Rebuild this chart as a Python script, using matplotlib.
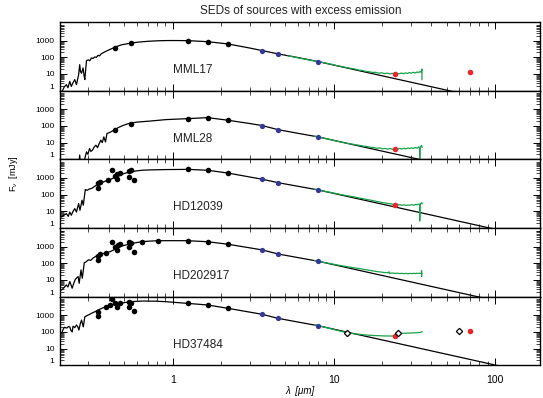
import numpy as np
import matplotlib
matplotlib.use("Agg")
import matplotlib.pyplot as plt
from matplotlib.ticker import LogLocator, NullFormatter

plt.rcParams['font.family'] = ['Liberation Sans', 'DejaVu Sans']
plt.rcParams['mathtext.fontset'] = 'custom'
plt.rcParams['mathtext.rm'] = 'Liberation Sans'
plt.rcParams['mathtext.it'] = 'Liberation Sans:italic'

# IRAC bands shared by all sources (um)
irac_wl = [3.6, 4.5, 8.0]

# ---- MML17 ----
mml17_model = [(0.205, 0.8), (0.212, 1.6), (0.219, 2.3), (0.224, 1.5), (0.230, 3.6), (0.235, 1.8),
               (0.241, 3.0), (0.247, 4.6), (0.253, 2.3), (0.258, 5.5), (0.261, 9.0), (0.265, 36),
               (0.268, 14), (0.272, 11), (0.278, 23), (0.282, 8), (0.285, 4.6), (0.292, 63),
               (0.300, 70), (0.306, 62), (0.313, 91), (0.320, 84), (0.328, 105), (0.336, 98),
               (0.344, 130), (0.352, 122), (0.360, 160), (0.379, 210), (0.400, 270), (0.427, 360),
               (0.455, 460), (0.482, 560), (0.52, 640), (0.556, 720), (0.62, 820), (0.705, 910),
               (0.80, 970), (0.90, 1000), (1.0, 1010), (1.25, 990), (1.65, 860), (2.2, 630),
               (3.0, 360), (3.6, 250), (4.5, 160), (6.0, 96), (8.0, 55), (200, 0.055)]
mml17_phot = [(0.44, 380), (0.55, 680), (1.25, 990), (1.65, 860), (2.2, 630)]
mml17_irac = [250, 160, 55]
mml17_irs = [(5.2, 122), (5.6, 106), (6.0, 92), (6.5, 80), (7.0, 69), (7.5, 61), (8.0, 55), (8.6, 48),
             (9.2, 42), (9.8, 37), (10.5, 31), (11.2, 28), (12.0, 24), (12.8, 21.5), (13.6, 19.5),
             (14.3, 17), (15.0, 16.2), (15.8, 14.3), (16.6, 13.6), (17.4, 12.3), (18.2, 12.6),
             (19.0, 11.1), (19.8, 11.8), (20.6, 10.5), (21.4, 11.3), (22.2, 10.1), (23.0, 10.9),
             (23.8, 9.7), (24.6, 10.7), (25.4, 10.2), (26.2, 11.4), (27.0, 10.3), (27.8, 11.6),
             (28.6, 10.7), (29.4, 12.2), (30.2, 11.1), (31.0, 12.6), (31.8, 11.5), (32.6, 13.0),
             (33.4, 12.2), (34.2, 14.0), (34.8, 12.5), (35.2, 20), (35.2, 4.6)]
mml17_mips = [(24, 10.5), (70, 13)]

# ---- MML28 ----
mml28_model = [(0.258, 0.5), (0.262, 0.6), (0.265, 1.8), (0.268, 0.5), (0.280, 0.6), (0.285, 1.1),
               (0.292, 2.8), (0.298, 2.0), (0.305, 4.4), (0.311, 3.0), (0.318, 3.5), (0.326, 5.5),
               (0.334, 7), (0.342, 5.0), (0.350, 8.7), (0.358, 14), (0.366, 10), (0.374, 22),
               (0.383, 11), (0.391, 35), (0.40, 38), (0.415, 45), (0.437, 60), (0.46, 80),
               (0.49, 105), (0.53, 138), (0.60, 170), (0.72, 195), (0.91, 240), (1.25, 275),
               (1.65, 315), (2.2, 220), (3.0, 140), (3.6, 105), (4.5, 60), (6.0, 36), (8.0, 22),
               (200, 0.022)]
mml28_phot = [(0.44, 60), (0.55, 138), (1.25, 275), (1.65, 315), (2.2, 220)]
mml28_irac = [105, 60, 22]
mml28_irs = [(7.6, 24), (8.0, 22), (8.6, 19), (9.2, 16.5), (9.8, 14.2), (10.5, 12), (11.2, 10.6),
             (12.0, 9.2), (12.8, 8.3), (13.6, 7.5), (14.4, 6.9), (15.2, 6.2), (16.0, 5.9),
             (16.8, 5.3), (17.6, 5.1), (18.4, 4.6), (19.2, 4.8), (20.0, 4.3), (20.8, 4.5),
             (21.6, 4.1), (22.4, 4.4), (23.2, 3.9), (24.0, 4.2), (24.8, 4.0), (25.6, 4.5),
             (26.4, 4.1), (27.2, 4.6), (28.0, 4.2), (28.8, 4.8), (29.6, 4.4), (30.4, 4.9),
             (31.2, 4.5), (32.0, 5.1), (32.8, 4.7), (33.6, 5.4), (34.0, 5.0), (34.1, 0.8),
             (34.3, 5.6), (35.0, 6.8), (35.3, 5.2)]
mml28_mips = [(24, 4.0)]

# ---- HD12039 ----
hd12039_model = [(0.205, 4.6), (0.212, 6.0), (0.219, 7.2), (0.225, 5.0), (0.230, 9), (0.235, 5.8),
                 (0.241, 10), (0.247, 14.5), (0.253, 9), (0.261, 29), (0.266, 11.5), (0.274, 46),
                 (0.279, 23), (0.287, 200), (0.295, 180), (0.303, 215), (0.313, 230), (0.323, 280),
                 (0.335, 360), (0.353, 490), (0.37, 560), (0.39, 700), (0.41, 800), (0.44, 1100),
                 (0.47, 1450), (0.50, 1850), (0.54, 2240), (0.59, 2600), (0.65, 2900), (0.75, 3050),
                 (0.91, 3160), (1.25, 3250), (1.65, 2870), (2.2, 1960), (3.0, 1140), (3.6, 830),
                 (4.5, 520), (6.0, 314), (8.0, 190), (200, 0.19)]
hd12039_phot = [(0.344, 490), (0.344, 263), (0.353, 560), (0.397, 720), (0.423, 3160), (0.437, 1260),
                (0.449, 1660), (0.452, 910), (0.470, 1950), (0.537, 2510), (0.548, 2880),
                (0.537, 1120), (0.577, 790), (1.25, 3250), (1.65, 2870), (2.2, 1960)]
hd12039_irac = [830, 520, 190]
hd12039_irs = [(7.6, 210), (8.0, 190), (8.6, 165), (9.2, 145), (9.8, 128), (10.5, 112), (11.2, 98),
               (12.0, 87), (12.8, 78), (13.6, 70), (14.4, 62), (15.2, 57), (16.0, 51), (16.8, 47),
               (17.6, 43), (18.4, 39), (19.2, 36.5), (20.0, 33), (20.8, 32), (21.6, 29),
               (22.4, 28.5), (23.2, 26), (24.0, 26.5), (24.8, 24), (25.6, 25), (26.4, 23),
               (27.2, 24.5), (28.0, 22.5), (28.8, 24), (29.6, 23), (30.4, 25), (31.2, 23.5),
               (32.0, 25.5), (32.8, 24.5), (33.6, 27), (34.0, 26), (34.1, 2.6), (34.3, 27),
               (35.0, 33), (35.3, 28)]
hd12039_mips = [(24, 25)]

# ---- HD202917 ----
hd202917_model = [(0.205, 2.5), (0.212, 3.5), (0.219, 5), (0.224, 3.8), (0.230, 8), (0.238, 3.2),
                  (0.243, 6), (0.249, 11), (0.259, 16), (0.263, 6.3), (0.270, 40), (0.275, 12.6),
                  (0.283, 110), (0.290, 120), (0.300, 160), (0.31, 150), (0.32, 200), (0.344, 320),
                  (0.37, 380), (0.41, 500), (0.44, 700), (0.47, 1000), (0.52, 1300), (0.57, 1600),
                  (0.65, 2000), (0.80, 2240), (1.0, 2260), (1.25, 2240), (1.65, 1950), (2.2, 1380),
                  (3.0, 843), (3.6, 630), (4.5, 360), (6.0, 218), (8.0, 132), (200, 0.13)]
hd202917_phot = [(0.344, 275), (0.344, 160), (0.353, 350), (0.385, 400), (0.423, 1820),
                 (0.437, 1000), (0.449, 630), (0.459, 1260), (0.470, 1450), (0.537, 2000),
                 (0.548, 1580), (0.537, 1000), (0.577, 500), (0.647, 2000), (0.807, 2240),
                 (1.25, 2240), (1.65, 1950), (2.2, 1380)]
hd202917_irac = [630, 360, 132]
hd202917_irs = [(7.6, 145), (8.0, 132), (8.6, 114), (9.2, 101), (9.8, 90), (10.5, 79), (11.2, 71),
                (12.0, 63), (12.8, 57), (13.6, 52), (14.4, 48), (15.2, 44), (16.0, 40), (16.8, 37),
                (17.6, 34.5), (18.4, 32), (19.2, 30.5), (20.0, 29), (20.8, 27.5), (21.6, 27),
                (22.0, 31), (22.1, 24), (22.4, 25.5), (23.2, 26), (24.0, 24.5), (24.8, 25.5),
                (25.6, 24), (26.4, 25), (27.2, 23.8), (28.0, 24.8), (28.8, 23.5), (29.6, 24.6),
                (30.4, 24), (31.2, 25), (32.0, 24.2), (32.8, 25.2), (33.6, 24.6), (34.4, 25),
                (35.0, 25), (35.0, 36), (35.0, 16), (35.05, 25)]

# ---- HD37484 ----
hd37484_model = [(0.205, 83), (0.209, 140), (0.213, 190), (0.220, 170), (0.226, 210), (0.230, 200),
                 (0.234, 120), (0.238, 100), (0.241, 220), (0.247, 180), (0.253, 260), (0.258, 200),
                 (0.262, 130), (0.267, 300), (0.272, 510), (0.279, 200), (0.285, 810), (0.298, 1000),
                 (0.313, 1290), (0.328, 1600), (0.344, 2040), (0.37, 2800), (0.397, 3550),
                 (0.43, 4300), (0.47, 5100), (0.54, 6450), (0.65, 7080), (0.80, 6900), (0.91, 6450),
                 (1.25, 5100), (1.65, 4100), (2.2, 2600), (3.0, 1540), (3.6, 1130), (4.5, 650),
                 (6.0, 390), (8.0, 235), (200, 0.235)]
hd37484_phot = [(0.344, 1600), (0.344, 900), (0.385, 2950), (0.41, 4070), (0.423, 9500),
                (0.437, 5100), (0.449, 2950), (0.470, 5100), (0.537, 6450), (0.537, 3200),
                (0.548, 5620), (0.577, 1860), (1.25, 5100), (1.65, 4100), (2.2, 2600)]
hd37484_irac = [1130, 650, 235]
hd37484_irs = [(7.6, 260), (8.0, 235), (8.6, 200), (9.2, 170), (9.8, 146), (10.5, 124), (11.2, 106),
               (12.0, 91), (12.8, 82), (13.6, 76), (14.4, 72), (15.2, 68), (16.0, 65), (16.8, 63),
               (17.6, 61), (18.4, 60), (19.2, 59), (20.0, 58), (20.8, 57.5), (21.6, 57),
               (22.4, 56.5), (23.2, 57), (24.0, 60), (24.8, 72), (25.6, 80), (26.4, 82),
               (27.2, 84), (28.0, 83), (28.8, 86), (29.6, 85), (30.4, 88), (31.2, 87), (32.0, 90),
               (32.8, 89), (33.6, 92), (34.4, 95), (35.0, 100), (35.3, 102)]
hd37484_mips = [(24, 59), (70, 118)]
hd37484_open = [(12, 89), (25, 89), (60, 108)]

panels = [
    ("MML17", mml17_model, mml17_phot, mml17_irac, mml17_irs, mml17_mips, None),
    ("MML28", mml28_model, mml28_phot, mml28_irac, mml28_irs, mml28_mips, None),
    ("HD12039", hd12039_model, hd12039_phot, hd12039_irac, hd12039_irs, hd12039_mips, None),
    ("HD202917", hd202917_model, hd202917_phot, hd202917_irac, hd202917_irs, None, None),
    ("HD37484", hd37484_model, hd37484_phot, hd37484_irac, hd37484_irs, hd37484_mips, hd37484_open),
]

green = "#17a34a"
blue = "#33379b"
red = "#e8262c"

fig = plt.figure(figsize=(5.43, 3.98), dpi=100)
axes = fig.subplots(5, 1, sharex=True, gridspec_kw=dict(hspace=0))
fig.subplots_adjust(left=60 / 543, right=540 / 543, top=1 - 22 / 398, bottom=1 - 365.3 / 398)

for ax, (name, model, phot, irac, irs, mips, opn) in zip(axes, panels):
    m = np.array(model)
    ax.plot(m[:, 0], m[:, 1], color="k", lw=0.9, zorder=2)
    s = np.array(irs)
    ax.plot(s[:, 0], s[:, 1], color=green, lw=0.9, zorder=3)
    p = np.array(phot)
    ax.plot(p[:, 0], p[:, 1], "o", color="k", ms=4.0, mec="none", zorder=4)
    ax.plot(irac_wl, irac, "o", color=blue, ms=3.8, mec="none", zorder=4)
    if mips is not None:
        r = np.array(mips)
        ax.plot(r[:, 0], r[:, 1], "o", color=red, ms=4.0, mec="none", zorder=5)
    if opn is not None:
        o = np.array(opn)
        ax.plot(o[:, 0], o[:, 1], "D", mfc="white", mec="k", mew=0.9, ms=3.2, zorder=6)

    ax.set_xscale("log")
    ax.set_yscale("log")
    ax.set_xlim(0.2, 190)
    ax.set_ylim(1, 13000)
    ax.set_xticks([1, 10, 100], labels=["1", "10", "100"])
    ax.set_yticks([1, 10, 100, 1000], labels=["1", "10", "100", "1000"])
    ax.yaxis.set_minor_locator(LogLocator(base=10, subs=np.arange(2, 10), numticks=20))
    ax.yaxis.set_minor_formatter(NullFormatter())
    ax.xaxis.set_minor_formatter(NullFormatter())
    ax.tick_params(which="both", direction="in", top=True, right=True)
    ax.tick_params(which="major", length=5, width=0.7)
    ax.tick_params(which="minor", length=3, width=0.5)
    ax.tick_params(axis="y", labelsize=6, pad=4)
    ax.tick_params(axis="x", labelsize=7.5, pad=7)
    for lab in ax.get_yticklabels():
        if lab.get_text() == "1":
            lab.set_va("bottom")
    for sp in ax.spines.values():
        sp.set_linewidth(1.0)
    ax.text(0.235, 0.30, name, transform=ax.transAxes, fontsize=8.5, va="center", color="#222222")

fig.text(301 / 543, 1 - 11 / 398, "SEDs of sources with excess emission", ha="center", va="center",
         fontsize=8.5, color="#222222")
fig.text(13 / 543, 1 - 174 / 398, r"F$_\nu$  [mJy]", rotation=90, ha="center", va="center",
         fontsize=6.5)
fig.text(300 / 543, 1 - 391 / 398, "λ  [μm]", ha="center", va="center", fontsize=7, style="italic")

fig.savefig("out.png", dpi=100)
